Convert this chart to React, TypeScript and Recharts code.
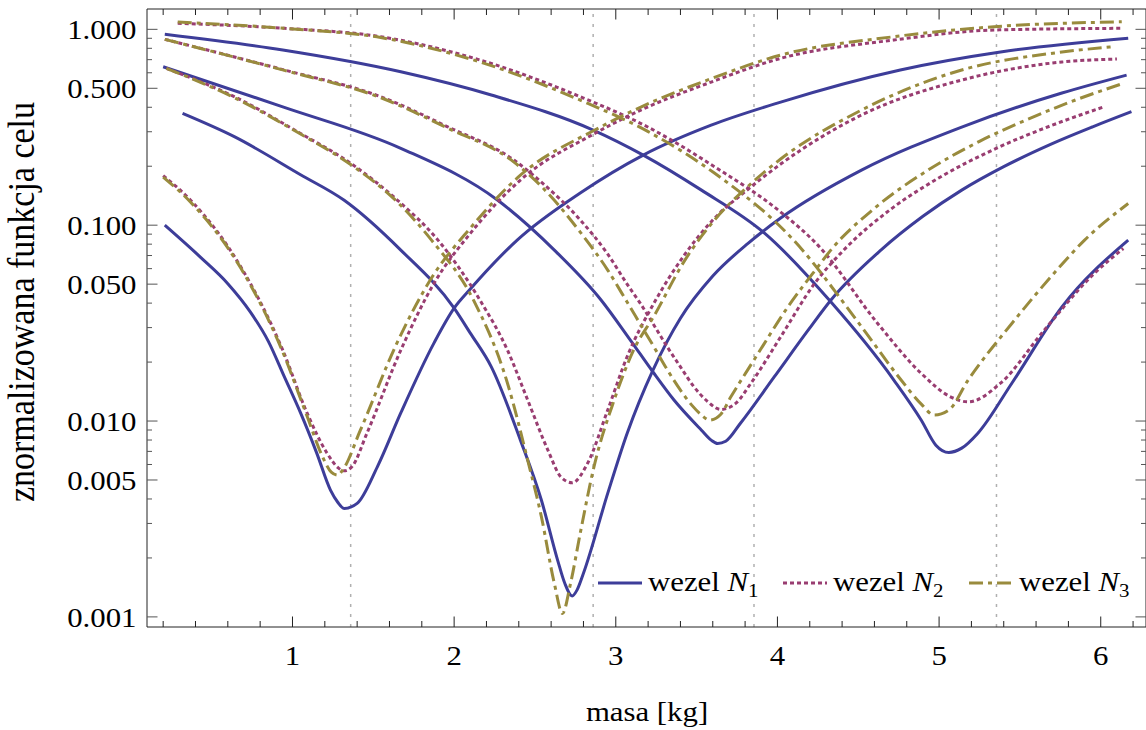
import { LineChart, Line, XAxis, YAxis, ReferenceLine } from "recharts";

const FONT = "'Liberation Serif', 'Times New Roman', serif";
const SX = 1.1;

// mass [kg] -> normalised objective
const n1Dip1 = [[0.21,0.100],[0.43,0.0687],[0.60,0.0503],[0.74,0.0360],[0.85,0.0256],[0.95,0.0168],[1.05,0.0110],[1.15,0.00686],[1.235,0.00444],[1.28,0.00385],[1.32,0.00358],[1.40,0.00380],[1.525,0.00584],[1.67,0.0110],[1.875,0.0250],[2.00,0.0377],[2.10,0.0472],[2.39,0.0839],[2.78,0.146],[3.17,0.228],[3.59,0.324],[4.02,0.425],[4.76,0.620],[5.38,0.766],[6.17,0.900]];
const n1Dip2 = [[0.32,0.372],[0.64,0.283],[1.05,0.181],[1.32,0.134],[1.67,0.0746],[2.00,0.0377],[2.10,0.0281],[2.23,0.0189],[2.41,0.00799],[2.54,0.00394],[2.64,0.00195],[2.685,0.00148],[2.73,0.00128],[2.76,0.00137],[2.80,0.00167],[2.95,0.00427],[3.07,0.00864],[3.23,0.0182],[3.40,0.0335],[3.60,0.0550],[3.82,0.0810],[4.02,0.1087],[4.52,0.191],[5.14,0.317],[5.76,0.473],[6.16,0.584]];
const n1Dip3 = [[0.20,0.644],[0.94,0.402],[1.67,0.247],[2.27,0.134],[2.62,0.0746],[2.91,0.0414],[3.09,0.0259],[3.23,0.0178],[3.36,0.0128],[3.53,0.00898],[3.59,0.00799],[3.63,0.00768],[3.68,0.00789],[3.77,0.00972],[3.98,0.0168],[4.19,0.0291],[4.33,0.0414],[4.64,0.0746],[4.90,0.111],[5.14,0.151],[5.40,0.199],[5.70,0.261],[5.95,0.318],[6.19,0.380]];
const n1Dip4 = [[0.21,0.943],[0.94,0.784],[1.67,0.607],[2.23,0.462],[2.86,0.306],[3.17,0.228],[3.53,0.151],[3.92,0.0911],[4.33,0.0406],[4.72,0.0162],[4.89,0.0101],[4.98,0.00753],[5.06,0.00691],[5.14,0.00727],[5.24,0.00867],[5.45,0.0156],[5.76,0.0383],[6.17,0.0839]];

const n2Dip1 = [[0.20,0.179],[0.37,0.134],[0.68,0.0613],[0.94,0.0230],[1.09,0.0110],[1.215,0.00683],[1.285,0.00575],[1.32,0.00557],[1.37,0.00588],[1.46,0.00864],[1.67,0.0230],[1.875,0.0504],[2.10,0.0908],[2.41,0.170],[2.87,0.294],[3.155,0.387],[3.59,0.538],[4.02,0.711],[4.72,0.882],[5.34,0.992],[6.13,1.012]];
const n2Dip2 = [[0.22,0.632],[0.64,0.453],[1.05,0.294],[1.36,0.207],[1.65,0.134],[1.90,0.0839],[2.16,0.0414],[2.33,0.0230],[2.455,0.0128],[2.58,0.00710],[2.66,0.00519],[2.73,0.00484],[2.825,0.00607],[2.95,0.01137],[3.07,0.0213],[3.24,0.0405],[3.42,0.0696],[3.60,0.1062],[3.82,0.1529],[4.02,0.2051],[4.52,0.365],[5.14,0.551],[5.76,0.681],[6.10,0.705]];
const n2Dip3 = [[0.21,0.889],[0.95,0.620],[1.545,0.453],[1.96,0.318],[2.37,0.215],[2.55,0.163],[2.78,0.1064],[2.95,0.0712],[3.07,0.0500],[3.155,0.0395],[3.24,0.0305],[3.32,0.0238],[3.40,0.0189],[3.48,0.0151],[3.565,0.01264],[3.65,0.01146],[3.743,0.01234],[3.836,0.0156],[4.02,0.0269],[4.23,0.0504],[4.41,0.0746],[4.70,0.1204],[5.00,0.1746],[5.35,0.246],[5.70,0.324],[6.02,0.402]];
const n2Dip4 = [[0.29,1.073],[0.95,1.012],[1.545,0.917],[2.16,0.697],[2.78,0.453],[3.195,0.318],[3.61,0.199],[4.02,0.1167],[4.25,0.0791],[4.62,0.0315],[4.89,0.0175],[5.07,0.0133],[5.18,0.01253],[5.38,0.0156],[5.65,0.0291],[5.96,0.0567],[6.14,0.0760]];

const n3Dip1 = [[0.20,0.176],[0.37,0.131],[0.68,0.0604],[0.94,0.0225],[1.09,0.0106],[1.19,0.00646],[1.24,0.00548],[1.28,0.00529],[1.31,0.00561],[1.42,0.00898],[1.64,0.0244],[1.86,0.0537],[2.10,0.0966],[2.41,0.180],[2.87,0.306],[3.155,0.401],[3.59,0.56],[4.02,0.739],[4.72,0.917],[5.34,1.031],[6.13,1.093]];
const n3Dip2 = [[0.22,0.632],[0.64,0.448],[1.05,0.292],[1.36,0.204],[1.65,0.131],[1.86,0.0839],[2.12,0.0414],[2.33,0.0156],[2.455,0.00632],[2.54,0.00324],[2.62,0.00148],[2.67,0.00104],[2.72,0.00148],[2.78,0.00267],[2.865,0.00584],[2.99,0.0128],[3.11,0.0230],[3.24,0.0348],[3.42,0.0648],[3.60,0.1037],[3.82,0.1584],[4.02,0.2176],[4.52,0.387],[5.14,0.620],[5.76,0.766],[6.08,0.815]];
const n3Dip3 = [[0.21,0.889],[0.95,0.617],[1.545,0.448],[1.96,0.313],[2.37,0.210],[2.55,0.1547],[2.78,0.0922],[2.95,0.0590],[3.07,0.0405],[3.155,0.0309],[3.24,0.0236],[3.32,0.0182],[3.40,0.01438],[3.47,0.01206],[3.525,0.01084],[3.58,0.01011],[3.65,0.01084],[3.712,0.01329],[3.855,0.0205],[4.065,0.0383],[4.25,0.0613],[4.33,0.0746],[4.60,0.1219],[4.93,0.1907],[5.25,0.268],[5.55,0.348],[5.85,0.4375],[6.14,0.530]];
const n3Dip4 = [[0.29,1.090],[0.95,1.012],[1.545,0.908],[2.16,0.681],[2.78,0.435],[3.195,0.302],[3.61,0.1845],[4.10,0.0839],[4.52,0.0303],[4.765,0.0162],[4.89,0.0122],[4.97,0.01072],[5.06,0.01137],[5.18,0.0162],[5.45,0.0315],[5.71,0.0567],[5.90,0.0839],[6.17,0.129]];

const nodes = [
  { sub: "1", color: "#3d3d99", dash: undefined as string | undefined, curves: [n1Dip1, n1Dip2, n1Dip3, n1Dip4] },
  { sub: "2", color: "#993d71", dash: "4 3", curves: [n2Dip1, n2Dip2, n2Dip3, n2Dip4] },
  { sub: "3", color: "#998b3d", dash: "14 5 4 5", curves: [n3Dip1, n3Dip2, n3Dip3, n3Dip4] },
];

const massMarks = [1.36, 2.86, 3.855, 5.355];
const xTicks = [0.2,0.4,0.6,0.8,1,1.2,1.4,1.6,1.8,2,2.2,2.4,2.6,2.8,3,3.2,3.4,3.6,3.8,4,4.2,4.4,4.6,4.8,5,5.2,5.4,5.6,5.8,6,6.2];
const yTicks = [0.001,0.002,0.003,0.004,0.005,0.006,0.007,0.008,0.009,0.01,0.02,0.03,0.04,0.05,0.06,0.07,0.08,0.09,0.1,0.2,0.3,0.4,0.5,0.6,0.7,0.8,0.9,1];
const yMajor = [0.001, 0.005, 0.01, 0.05, 0.1, 0.5, 1];

const isXMajor = (v: number) => Math.abs(v - Math.round(v)) < 1e-6;
const isYMajor = (v: number) => yMajor.some((m) => Math.abs(v - m) < 1e-9);

const BottomTick = ({ x, y, payload }: any) => {
  const major = isXMajor(payload.value);
  return (
    <g>
      <line x1={x} x2={x} y1={y} y2={y - (major ? 10.5 : 6)} stroke="#222" />
      {major && (
        <text transform={`translate(${x},${y + 37.5}) scale(${SX},1)`} textAnchor="middle" fontSize={28} fontFamily={FONT} fill="#000">
          {payload.value}
        </text>
      )}
    </g>
  );
};

const TopTick = ({ x, y, payload }: any) => (
  <line x1={x} x2={x} y1={y} y2={y + (isXMajor(payload.value) ? 10.5 : 6)} stroke="#222" />
);

const LeftTick = ({ x, y, payload }: any) => {
  const major = isYMajor(payload.value);
  return (
    <g>
      <line x1={x} x2={x + (major ? 10.5 : 5)} y1={y} y2={y} stroke="#555" />
      {major && (
        <text transform={`translate(${x - 10.5},${y + 9.8}) scale(${SX},1)`} textAnchor="end" fontSize={28} fontFamily={FONT} fill="#000">
          {payload.value.toFixed(3)}
        </text>
      )}
    </g>
  );
};

const RightTick = ({ x, y, payload }: any) => (
  <line x1={x} x2={x - (isYMajor(payload.value) ? 10.5 : 5)} y1={y} y2={y} stroke="#555" />
);

const legendX = [598, 783, 969];

export default function App() {
  return (
    <div style={{ position: "absolute", left: 0, top: 0, width: 1146, height: 730, overflow: "hidden", background: "#fff" }}>
      <LineChart width={1160} height={730} margin={{ top: 8, right: 13, bottom: 0, left: 0 }}>
        <XAxis dataKey="m" type="number" domain={[0.1, 6.28]} allowDataOverflow ticks={xTicks} interval={0}
          tickLine={false} tickSize={0} tickMargin={0} axisLine={{ stroke: "#222" }} height={103} tick={BottomTick} />
        <XAxis xAxisId="top" orientation="top" dataKey="m" type="number" domain={[0.1, 6.28]} allowDataOverflow ticks={xTicks} interval={0}
          tickLine={false} tickSize={0} tickMargin={0} axisLine={{ stroke: "#222" }} height={1} tick={TopTick} />
        <YAxis type="number" scale="log" domain={[0.000888, 1.27]} allowDataOverflow ticks={yTicks} interval={0}
          tickLine={false} tickSize={0} tickMargin={0} axisLine={{ stroke: "#222" }} width={147} tick={LeftTick} />
        <YAxis yAxisId="right" orientation="right" type="number" scale="log" domain={[0.000888, 1.27]} allowDataOverflow ticks={yTicks} interval={0}
          tickLine={false} tickSize={0} tickMargin={0} axisLine={{ stroke: "#222" }} width={1} tick={RightTick} />
        {massMarks.map((m) => (
          <ReferenceLine key={m} x={m} stroke="#b0b0b0" strokeWidth={1.5} strokeDasharray="3 7" />
        ))}
        {nodes.map((n) =>
          n.curves.map((c, i) => (
            <Line key={`${n.sub}-${i}`} data={c.map(([m, v]) => ({ m, v }))} dataKey="v" type="monotone"
              stroke={n.color} strokeWidth={3} strokeDasharray={n.dash} dot={false} activeDot={false}
              isAnimationActive={false} legendType="none" />
          ))
        )}
      </LineChart>
      <svg width={1146} height={730} style={{ position: "absolute", left: 0, top: 0, pointerEvents: "none" }}>
        <text transform={`translate(647,721) scale(${SX},1)`} textAnchor="middle" fontSize={28} fontFamily={FONT}>masa [kg]</text>
        <text transform={`translate(34,302) scale(1.12,1) rotate(-90)`} textAnchor="middle" fontSize={34} fontFamily={FONT}>znormalizowana funkcja celu</text>
        {nodes.map((n, i) => (
          <g key={n.sub} transform={`translate(${legendX[i]},583)`}>
            <line x1={0} x2={44} y1={0} y2={0} stroke={n.color} strokeWidth={3} strokeDasharray={n.dash} />
            <text transform={`translate(50,7.5) scale(${SX},1)`} fontSize={28} fontFamily={FONT}>
              wezel <tspan fontStyle="italic">N</tspan>
              <tspan fontSize={19} dy={6}>{n.sub}</tspan>
            </text>
          </g>
        ))}
      </svg>
    </div>
  );
}
